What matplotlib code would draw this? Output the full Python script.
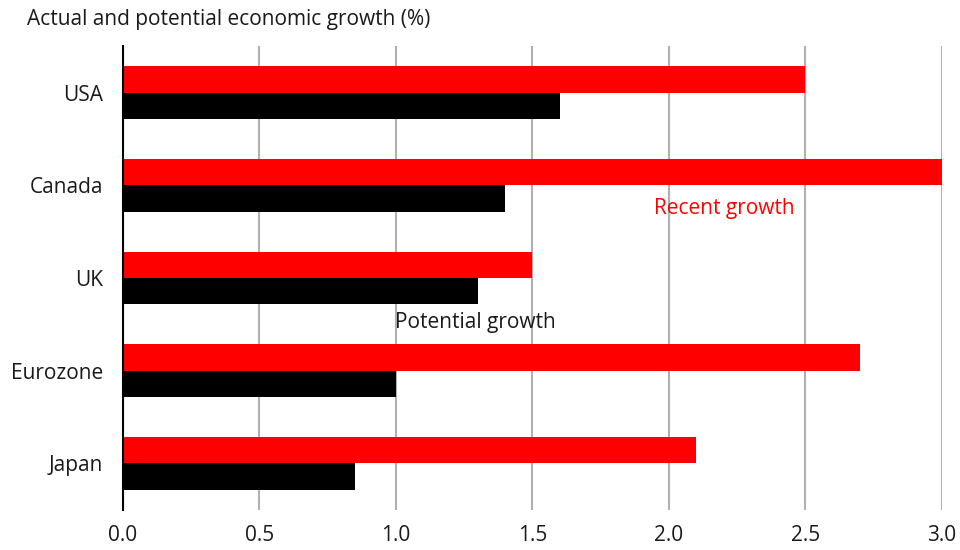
import matplotlib
matplotlib.use("Agg")
import matplotlib.pyplot as plt
import numpy as np

plt.rcParams["font.family"] = ["Open Sans", "DejaVu Sans"]

countries = ["USA", "Canada", "UK", "Eurozone", "Japan"]
recent = [2.5, 3.0, 1.5, 2.7, 2.1]
potential = [1.6, 1.4, 1.3, 1.0, 0.85]

fs = 15

fig = plt.figure(figsize=(9.6, 5.5), dpi=100)
ax = fig.add_axes([0.128, 0.073, 0.853, 0.843])

y = np.arange(len(countries))
h = 0.285
ax.barh(y - h / 2, recent, height=h, color="#ff0000", zorder=2)
ax.barh(y + h / 2, potential, height=h, color="#000000", zorder=2)

ax.set_xlim(0, 3.0)
ax.set_ylim(len(countries) - 0.5, -0.5)
ax.set_xticks(np.arange(0, 3.01, 0.5))
ax.set_xticklabels([f"{v:.1f}" for v in np.arange(0, 3.01, 0.5)])
ax.set_yticks(y)
ax.set_yticklabels(countries)

ax.grid(axis="x", color="#b0b0b0", lw=1.5, zorder=0)
for s in ["top", "right", "bottom"]:
    ax.spines[s].set_visible(False)
ax.spines["left"].set_linewidth(1.5)
ax.spines["left"].set_zorder(3)
ax.tick_params(axis="both", length=0, labelsize=fs, colors="#1a1a1a")
ax.tick_params(axis="x", pad=11)
ax.tick_params(axis="y", pad=14)

ax.text(1.945, 1.25, "Recent growth", color="#ff0000", fontsize=fs,
        va="center", ha="left")
ax.text(0.996, 2.48, "Potential growth", color="#1a1a1a", fontsize=fs,
        va="center", ha="left")

fig.text(27 / 960, 1 - 19 / 550, "Actual and potential economic growth (%)",
         fontsize=fs, color="#1a1a1a", va="center", ha="left")

fig.savefig("out.png", dpi=100)
